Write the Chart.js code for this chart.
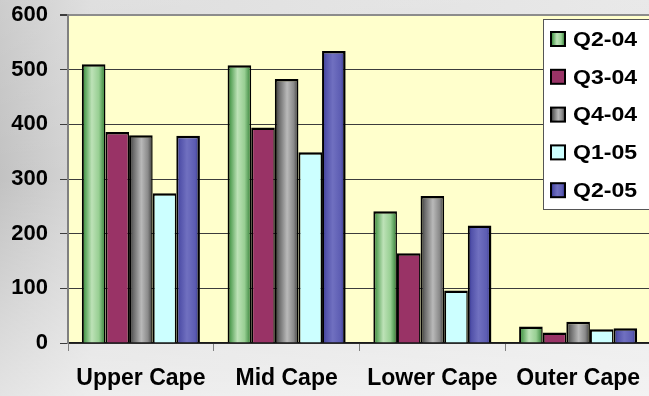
<!DOCTYPE html>
<html>
<head>
<meta charset="utf-8">
<script src="https://cdn.jsdelivr.net/npm/chart.js@4.4.1/dist/chart.umd.min.js"></script>
<style>
  html, body { margin: 0; padding: 0; overflow: hidden; width: 649px; height: 396px; background: #e4e4e4; }
  #wrap { width: 651px; height: 396px; }
</style>
</head>
<body>
<div id="wrap"><canvas id="c" width="651" height="396"></canvas></div>
<script>
// Regions along the x axis and the quarter series
const regions = ['Upper Cape', 'Mid Cape', 'Lower Cape', 'Outer Cape'];
const quarters = ['Q2-04', 'Q3-04', 'Q4-04', 'Q1-05', 'Q2-05'];

const q2_04 = [510, 508, 241, 30];
const q3_04 = [386, 394, 164, 19];
const q4_04 = [380, 483, 269, 39];
const q1_05 = [274, 349, 96, 25];
const q2_05 = [379, 534, 215, 27];

const yMin = 0;
const yMax = 600;
const yStep = 100;

const seriesValues = [q2_04, q3_04, q4_04, q1_05, q2_05];

// Horizontal shading for each series (flat colour or gradient stops)
const seriesFills = [
  [[0, '#2b7a33'], [0.14, '#5ca55c'], [0.42, '#bde2b7'], [0.72, '#98cf93'], [1, '#2d7b31']],
  '#993366',
  [[0, '#333333'], [0.18, '#6a6a6a'], [0.52, '#b9b9b9'], [0.8, '#8a8a8a'], [1, '#3a3a3a']],
  '#ccffff',
  [[0, '#2a2a88'], [0.16, '#5252aa'], [0.45, '#7070c0'], [0.8, '#5c5cb2'], [1, '#2b2b86']]
];
const CAT_PCT = 0.81;

function makeFill(ctx, spec, left, right) {
  if (typeof spec === 'string') return spec;
  const g = ctx.createLinearGradient(left, 0, right, 0);
  spec.forEach(([o, c]) => g.addColorStop(o, c));
  return g;
}

function barFill(spec) {
  return (c) => {
    if (typeof spec === 'string') return spec;
    const chart = c.chart;
    const xs = chart.scales.x;
    if (!xs || c.type !== 'data' || !chart.chartArea) return spec[2][1];
    const w = xs.getPixelForValue(1) - xs.getPixelForValue(0);
    const bw = w * CAT_PCT / quarters.length;
    const left = xs.getPixelForValue(c.dataIndex) - w * CAT_PCT / 2 + c.datasetIndex * bw;
    return makeFill(chart.ctx, spec, left, left + bw);
  };
}

const datasets = quarters.map((q, i) => ({
  label: q,
  data: seriesValues[i],
  backgroundColor: barFill(seriesFills[i]),
  borderColor: '#000000',
  borderWidth: { left: 2, right: i === quarters.length - 1 ? 2.5 : 1.5, top: 2.5, bottom: 0 },
  borderSkipped: 'start',
  categoryPercentage: CAT_PCT,
  barPercentage: 1.0
}));

// Gray backdrop and pale yellow plot area
const backdrop = {
  id: 'backdrop',
  beforeDraw(chart) {
    const { ctx, width, height, chartArea: a } = chart;
    ctx.save();
    const h = ctx.createLinearGradient(0, 0, width, 0);
    h.addColorStop(0, '#c2c2c2');
    h.addColorStop(0.14, '#d8d8d8');
    h.addColorStop(1, '#e4e4e4');
    ctx.fillStyle = h;
    ctx.fillRect(0, 0, width, height);
    const v = ctx.createLinearGradient(0, 0, 0, height);
    v.addColorStop(0, 'rgba(255,255,255,0.18)');
    v.addColorStop(0.45, 'rgba(255,255,255,0)');
    v.addColorStop(1, 'rgba(255,255,255,0.55)');
    ctx.fillStyle = v;
    ctx.fillRect(0, 0, width, height);
    ctx.fillStyle = '#ffffcc';
    ctx.fillRect(a.left, a.top, a.right - a.left, a.bottom - a.top);
    ctx.restore();
  }
};

// Boxed legend inside the upper right of the plot
const boxLegend = {
  id: 'boxLegend',
  afterDraw(chart) {
    const { ctx } = chart;
    const x0 = 543.5, y0 = 19.5, w = 130, h = 190;
    ctx.save();
    ctx.fillStyle = '#ffffff';
    ctx.fillRect(x0, y0, w, h);
    ctx.strokeStyle = '#555555';
    ctx.lineWidth = 1;
    ctx.strokeRect(x0, y0, w, h);
    const rowH = 37.8;
    quarters.forEach((q, i) => {
      const cy = 39 + i * rowH;
      const sx = 551, sz = 14;
      ctx.fillStyle = makeFill(ctx, seriesFills[i], sx, sx + sz);
      ctx.fillRect(sx, cy - sz / 2, sz, sz);
      ctx.strokeStyle = '#000000';
      ctx.lineWidth = 2;
      ctx.strokeRect(sx, cy - sz / 2, sz, sz);
      ctx.fillStyle = '#000000';
      ctx.font = 'bold 21px "Liberation Sans", Arial, sans-serif';
      ctx.textBaseline = 'middle';
      ctx.textAlign = 'left';
      ctx.save();
      ctx.translate(573, cy + 1);
      ctx.scale(1.1, 1);
      ctx.fillText(q, 0, 0);
      ctx.restore();
    });
    ctx.restore();
  }
};

new Chart(document.getElementById('c'), {
  type: 'bar',
  data: { labels: regions, datasets },
  options: {
    responsive: false,
    animation: false,
    devicePixelRatio: 1,
    layout: { padding: { top: 15, left: 0, right: 0, bottom: 0 } },
    plugins: { legend: { display: false }, tooltip: { enabled: false } },
    scales: {
      x: {
        grid: { display: true, drawOnChartArea: false, drawTicks: true, tickLength: 8, tickColor: '#808080', offset: true },
        border: { display: true, color: '#1a1a1a', width: 1.5 },
        ticks: {
          font: { family: '"Liberation Sans", Arial, sans-serif', weight: 'bold', size: 23 },
          color: '#000000', padding: 14, maxRotation: 0, autoSkip: false
        },
        afterFit(s) { s.height = 53; s.paddingLeft = 0; s.paddingRight = 0; }
      },
      y: {
        min: yMin, max: yMax,
        ticks: {
          stepSize: yStep,
          font: { family: '"Liberation Sans", Arial, sans-serif', weight: 'bold', size: 22 },
          color: '#000000', padding: 12
        },
        grid: {
          color: (c) => c.tick && c.tick.value === yMax ? '#8c8c8c' : '#3c3c3c',
          lineWidth: (c) => c.tick && c.tick.value === yMax ? 2 : 1,
          tickLength: 8, tickColor: '#3c3c3c'
        },
        border: { display: true, color: '#808080', width: 2 },
        afterFit(s) { s.width = 68; s.paddingTop = 0; s.paddingBottom = 0; }
      }
    }
  },
  plugins: [backdrop, boxLegend]
});
</script>
</body>
</html>
